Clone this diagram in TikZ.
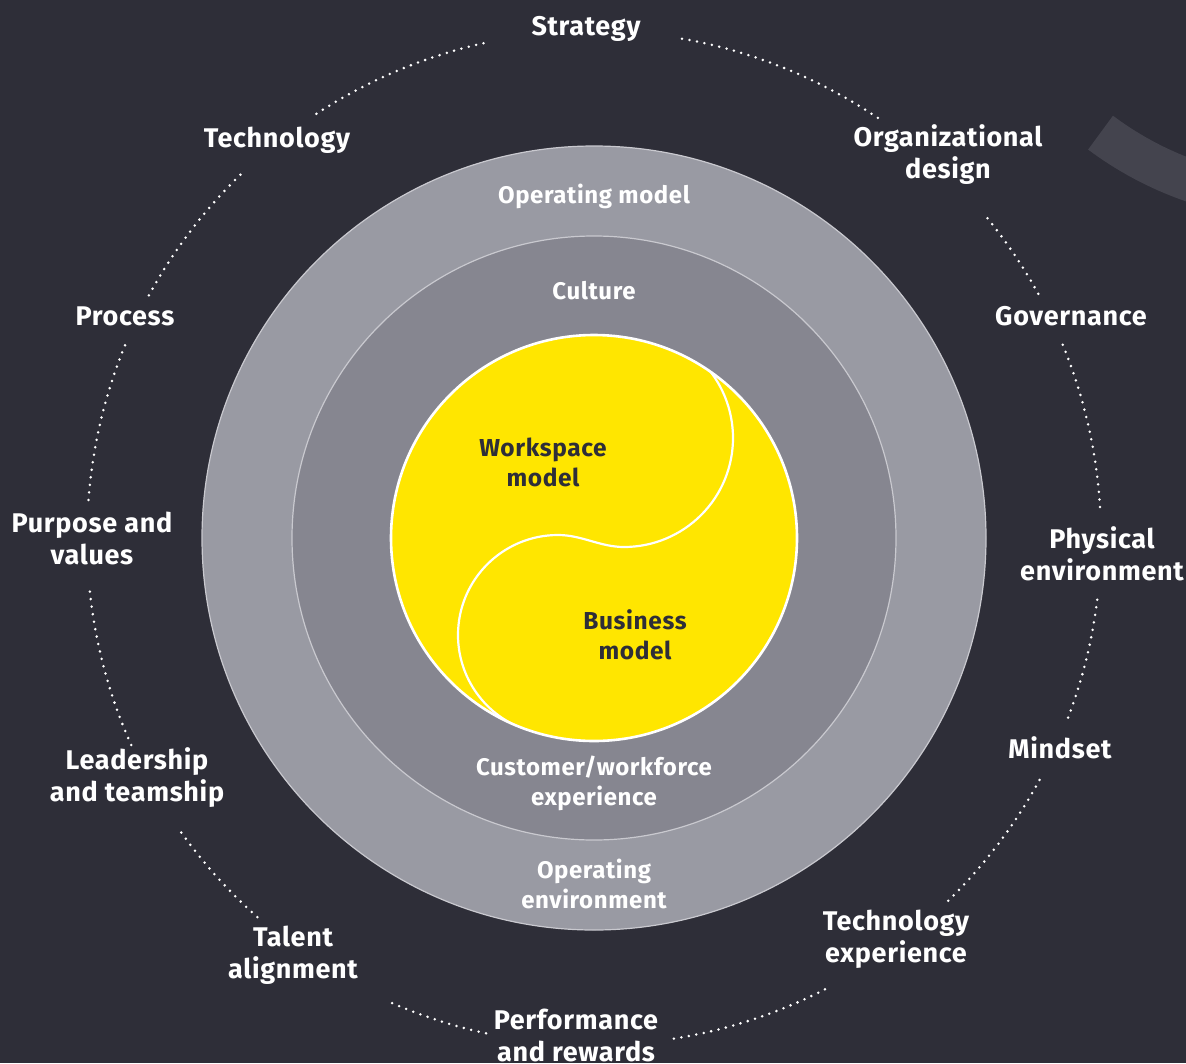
\documentclass[tikz,border=0pt]{standalone}
\usepackage{fontspec}
\setmainfont{Fira Sans}
\newfontfamily\lblfont{Fira Sans}[LetterSpace=2.5]
\definecolor{bg}{HTML}{2E2E38}
\definecolor{ringA}{HTML}{999AA3}
\definecolor{ringB}{HTML}{868690}
\definecolor{ringline}{HTML}{C9C9CF}
\definecolor{eyyellow}{HTML}{FFE600}
\definecolor{deco}{HTML}{44444E}
\begin{document}
\begin{tikzpicture}[x=1pt,y=-1pt,
  lbl/.style={text=white, font=\lblfont\fontsize{27}{32}\selectfont\bfseries, align=center, inner sep=0pt},
  inlbl/.style={text=white, font=\lblfont\fontsize{24}{30}\selectfont\bfseries, align=center, inner sep=0pt},
  ylbl/.style={text=bg, font=\lblfont\fontsize{24.5}{30}\selectfont\bfseries, align=center, inner sep=0pt},
  dots/.style={white, line width=2.8pt, line cap=round, dash pattern=on 0pt off 7.6pt},
  ring/.style={draw=ringline, line width=1.2pt}
]
\useasboundingbox (0,0) rectangle (1186,1063);
\fill[bg] (0,0) rectangle (1186,1063);
\coordinate (c) at (594,538);
\coordinate (dc) at (1303,-138);
% decorative arc band
\begin{scope}
\clip (0,0) rectangle (1186,1063);
\draw[deco, line width=42pt] ([shift={(126.8:338)}]dc) arc[start angle=126.8, end angle=95, radius=338];
\end{scope}
% rings
\fill[ringA] (c) circle[radius=392];
\draw[ring] (c) circle[radius=392];
\fill[ringB] (c) circle[radius=302];
\draw[ring] (c) circle[radius=302];
\fill[eyyellow] (c) circle[radius=203];
\begin{scope}
\clip (c) circle[radius=203];
\draw[white, line width=2.2pt]
  ([shift={(-45:109)}]624,438) arc[start angle=-45, end angle=90, radius=109]
  .. controls (600,547) and (582,535) .. (558,535)
  arc[start angle=-90, end angle=-252, radius=100];
\end{scope}
\draw[white, line width=2.6pt] (c) circle[radius=203];
% dotted outer ring
\foreach \a/\b in {-80/-55.7, -39.1/-28.6, -22.4/-2.9, 7/21, 28.5/46.3, 62.9/81.6, 102.3/114.1, 131.6/144.8, 155.9/174.3, 184.3/203, 208.6/226.4, 236.8/258.2}
  \draw[dots] ([shift={(\a:507)}]c) arc[start angle=\a, end angle=\b, radius=507];
% outer labels
\node[lbl] (strategy) at (586,29) {Strategy};
\node[lbl] (technology) at (277,140) {Technology};
\node[lbl] (orgdesign) at (948,155) {Organizational\\design};
\node[lbl] (process) at (125,316) {Process};
\node[lbl] (governance) at (1071,316) {Governance};
\node[lbl] (purpose) at (92,538) {Purpose and\\values};
\node[lbl] (physical) at (1102,554) {Physical\\environment};
\node[lbl] (leadership) at (137,778) {Leadership\\and teamship};
\node[lbl] (mindset) at (1060,748) {Mindset};
\node[lbl] (talent) at (293,955) {Talent\\alignment};
\node[lbl] (techexp) at (896,939) {Technology\\experience};
\node[lbl] (performance) at (576,1035) {Performance\\and rewards};
% inner labels
\node[inlbl] (opmodel) at (594,196) {Operating model};
\node[inlbl] (culture) at (594,291) {Culture};
\node[inlbl] (custexp) at (594,783) {Customer/workforce\\experience};
\node[inlbl] (openv) at (594,884) {Operating\\environment};
\node[ylbl] (workspace) at (543,462) {Workspace\\model};
\node[ylbl] (business) at (635,635) {Business\\model};
\end{tikzpicture}
\end{document}
